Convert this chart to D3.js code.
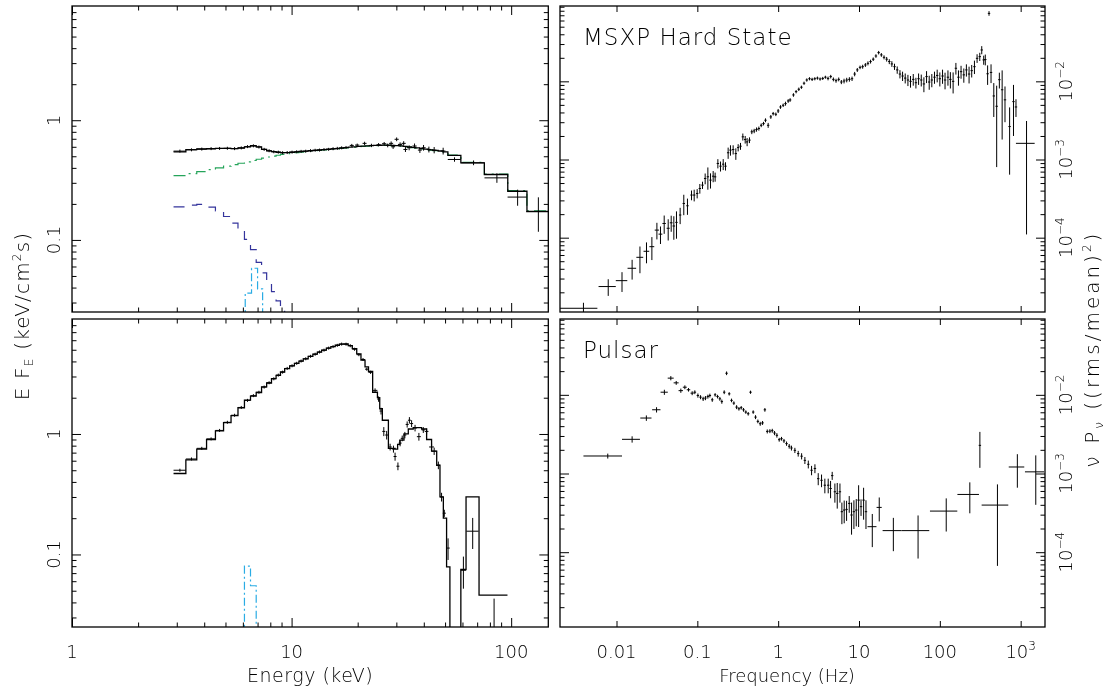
<!DOCTYPE html>
<html><head><meta charset="utf-8">
<script src="https://cdn.jsdelivr.net/npm/d3@7"></script>
<style>
body{margin:0;background:#fff;}
svg{will-change:transform;}
text{font-family:"DejaVu Sans","Liberation Sans",sans-serif;font-weight:200;fill:#000;}
</style></head><body>
<script>
// ---------------- DATA ----------------
const energyDomain = [1, 147.6];
const fluxDomain = [0.025, 9];
const freqDomain = [0.002, 2000];
const powerDomain = [1.12e-5, 0.092];

const energyTicks = [1, 10, 100];
const energyTickLabels = ["1", "10", "100"];
const energyMinor = [2,3,4,5,6,7,8,9,20,30,40,50,60,70,80,90];
const fluxTicks = [0.1, 1];
const fluxTickLabels = ["0.1", "1"];
const fluxMinor = [0.03,0.04,0.05,0.06,0.07,0.08,0.09,0.2,0.3,0.4,0.5,0.6,0.7,0.8,0.9,2,3,4,5,6,7,8];
const freqTicks = [0.01, 0.1, 1, 10, 100, 1000];
const freqTickLabels = ["0.01", "0.1", "1", "10", "100", "10^3"];
const powerTicks = [1e-4, 1e-3, 1e-2];
const powerTickExp = ["−4", "−3", "−2"];
const powerMinor = [2e-5,3e-5,4e-5,5e-5,6e-5,7e-5,8e-5,9e-5,2e-4,3e-4,4e-4,5e-4,6e-4,7e-4,8e-4,9e-4,
                    2e-3,3e-3,4e-3,5e-3,6e-3,7e-3,8e-3,9e-3,2e-2,3e-2,4e-2,5e-2,6e-2,7e-2,8e-2,9e-2];

// Top-left spectrum (MSXP hard state): model bins
const specTopEdges = [2.9,3.3,3.7,4.1,4.5,4.9,5.3,5.7,6.1,6.5,6.9,7.3,7.7,8.1,8.5,8.9,9.3,9.8,10.3,10.8,11.3,11.9,
  12.5,13.1,13.7,14.4,15.1,15.8,16.5,17.3,18.1,18.9,19.8,20.7,21.6,22.6,23.6,24.7,25.8,27.0,28.2,29.5,30.8,32.2,
  33.6,35.1,36.7,38.3,40.0,42.0,44.0,46.5,49.0,51.5,59.0,75.5,96.5,118,150];
const specTopTotal = [0.545,0.567,0.575,0.578,0.582,0.582,0.580,0.586,0.600,0.612,0.598,0.570,0.555,0.546,0.540,
  0.536,0.536,0.540,0.544,0.548,0.552,0.556,0.560,0.564,0.568,0.572,0.576,0.580,0.585,0.590,0.595,0.600,0.604,
  0.608,0.611,0.614,0.616,0.618,0.619,0.619,0.617,0.614,0.610,0.605,0.600,0.594,0.587,0.580,0.573,0.566,0.560,
  0.553,0.545,0.508,0.441,0.352,0.255,0.173];
const specTopComp = [0.345,0.358,0.372,0.386,0.400,0.413,0.425,0.437,0.449,0.461,0.472,0.483,0.493,0.502,0.510,
  0.518,0.525,0.531,0.537,0.542,0.547,0.553,0.557,0.561,0.565,0.569,0.573,0.577,0.582,0.587,0.592,0.597,0.601,
  0.605,0.608,0.611,0.613,0.615,0.616,0.616,0.614,0.611,0.607,0.602,0.597,0.591,0.584,0.577,0.570,0.563,0.557,
  0.550,0.542,0.512,0.444,0.355,0.258,0.175];
const specTopBB = [0.189,0.195,0.198,0.188,0.175,0.157,0.138,0.119,0.101,0.083,0.065,0.053,0.044,0.037,0.031,
  0.026,0.021,0.017,0.013];
const specTopLineEdges = [5.7,6.15,6.57,7.0,7.38,7.8];
const specTopLine = [0.005,0.036,0.058,0.039,0.005];
// [E, dE, flux, dflux]
const specTopData = [[3.1,0.2,0.552,0.012],[3.5,0.2,0.566,0.012],[3.9,0.2,0.574,0.012],[4.3,0.2,0.579,0.012],
  [4.7,0.2,0.581,0.012],[5.1,0.2,0.583,0.012],[5.5,0.2,0.579,0.012],[5.9,0.2,0.587,0.012],[6.3,0.2,0.602,0.013],
  [6.7,0.2,0.611,0.013],[7.1,0.2,0.597,0.013],[7.5,0.2,0.571,0.013],[7.9,0.2,0.556,0.013],[8.3,0.2,0.545,0.013],
  [8.7,0.2,0.541,0.013],[9.1,0.2,0.535,0.013],[9.55,0.25,0.537,0.013],[10.05,0.25,0.541,0.013],[10.55,0.25,0.545,0.014],
  [11.05,0.25,0.549,0.014],[11.6,0.3,0.551,0.014],[12.2,0.3,0.557,0.014],[12.8,0.3,0.561,0.014],[13.4,0.3,0.563,0.015],
  [14.05,0.35,0.569,0.015],[14.75,0.35,0.571,0.015],[15.45,0.35,0.578,0.016],[16.15,0.35,0.582,0.016],[16.9,0.4,0.588,0.016],
  [17.7,0.4,0.592,0.017],[18.8,0.4,0.616,0.018],[19.9,0.45,0.62,0.018],[21.5,0.45,0.641,0.02],[23.1,0.5,0.616,0.02],
  [24.9,0.55,0.624,0.02],[26.4,0.6,0.636,0.022],[27.4,0.6,0.616,0.022],[28.4,0.6,0.641,0.024],[29.0,0.6,0.60,0.024],
  [30.1,0.65,0.693,0.025],[31.2,0.7,0.628,0.025],[32.4,0.7,0.641,0.027],[33.0,0.7,0.57,0.027],[34.3,0.75,0.589,0.028],
  [36.3,0.8,0.609,0.03],[38.4,0.8,0.563,0.03],[39.9,0.9,0.589,0.032],[42.2,1.0,0.57,0.032],[44.6,1.1,0.563,0.034],
  [49.0,1.2,0.553,0.036],[55.2,3.75,0.47,0.02],[67.4,8.2,0.441,0.02],[86.1,10.5,0.33,0.03],[107,10.7,0.228,0.035],
  [133,16,0.172,0.055]];

// Bottom-left spectrum (pulsar)
const specBotEdges = [2.9,3.3,3.7,4.1,4.5,4.9,5.3,5.7,6.1,6.5,6.9,7.3,7.7,8.1,8.5,8.9,9.3,9.8,10.3,10.8,11.3,11.9,
  12.5,13.1,13.7,14.4,15.1,15.8,16.5,17.3,18.1,18.9,19.8,20.7,21.6,22.4,23.4,24.6,25.2,25.9,27.6,29.6,30.4,31.1,
  32.5,34.0,35.8,39.1,41.2,43.4,45.8,47.4,49.1,50.8,52.6,59.0,62.3,71.4,96.2];
const specBotModel = [0.47,0.61,0.75,0.90,1.06,1.24,1.42,1.65,1.91,2.06,2.21,2.46,2.65,2.88,3.07,3.27,3.49,3.67,
  3.85,4.02,4.20,4.40,4.60,4.78,4.97,5.15,5.30,5.45,5.57,5.58,5.42,5.10,4.62,4.10,3.60,3.30,2.22,2.00,1.62,1.30,
  0.76,0.75,0.82,0.89,1.00,1.10,1.13,1.10,0.90,0.72,0.55,0.30,0.20,0.079,0.005,0.075,0.30,0.046];
const specBotLineEdges = [5.7,6.1,6.5,6.9,7.3];
const specBotLine = [0.005,0.080,0.055,0.005];
const specBotData = [[3.1,0.2,0.50,0.012],[3.5,0.2,0.62,0.012],[3.9,0.2,0.76,0.014],[4.3,0.2,0.91,0.015],
  [4.7,0.2,1.07,0.016],[5.1,0.2,1.25,0.018],[5.5,0.2,1.43,0.02],[5.9,0.2,1.66,0.02],[6.3,0.2,1.90,0.022],
  [6.7,0.2,2.08,0.024],[7.1,0.2,2.22,0.025],[7.5,0.2,2.45,0.027],[7.9,0.2,2.66,0.03],[8.3,0.2,2.87,0.03],
  [8.7,0.2,3.08,0.035],[9.1,0.2,3.26,0.035],[9.55,0.25,3.5,0.04],[10.05,0.25,3.68,0.04],[10.55,0.25,3.86,0.04],
  [11.05,0.25,4.03,0.045],[11.6,0.3,4.21,0.05],[12.2,0.3,4.41,0.05],[12.8,0.3,4.59,0.05],[13.4,0.3,4.79,0.055],
  [14.05,0.35,4.96,0.06],[14.75,0.35,5.16,0.06],[15.45,0.35,5.31,0.065],[16.15,0.35,5.44,0.07],[16.9,0.4,5.57,0.07],
  [17.7,0.4,5.56,0.075],[18.5,0.4,5.40,0.08],[19.35,0.45,5.05,0.08],[20.25,0.45,4.55,0.08],[21.15,0.45,4.15,0.09],
  [22.0,0.4,3.45,0.1],[22.9,0.5,3.25,0.1],[24.0,0.6,2.3,0.09],[24.9,0.3,1.95,0.1],[25.55,0.35,1.55,0.1],
  [26.3,0.4,1.05,0.09],[27.1,0.4,0.98,0.08],[28.1,0.5,0.78,0.05],[29.1,0.5,0.75,0.05],[29.6,0.4,0.65,0.05],
  [30.5,0.4,0.54,0.04],[31.2,0.4,0.84,0.05],[31.9,0.4,0.92,0.05],[32.8,0.4,0.98,0.06],[33.6,0.4,1.20,0.07],
  [34.4,0.4,1.30,0.08],[35.2,0.4,1.22,0.08],[36.5,0.7,1.12,0.07],[38.0,0.8,0.95,0.07],[39.8,0.7,1.08,0.06],
  [41.2,0.8,1.05,0.06],[43.4,1.1,0.78,0.05],[44.6,1.2,0.72,0.05],[46.6,0.8,0.55,0.04],[48.2,0.8,0.30,0.025],
  [49.6,0.8,0.22,0.015],[51.6,0.9,0.113,0.023],[60.6,1.7,0.074,0.022],[66.8,4.3,0.156,0.045],[83.6,12,0.02,0.023]];

// Top-right PSD (MSXP hard state): [f, df, nuPnu, err]
const psdHard = [[0.0039,0.0019,1.25e-5,0.22e-5],[0.0079,0.0019,2.37e-5,0.57e-5],[0.0117,0.0019,2.82e-5,0.8e-5],
  [0.0156,0.0019,4.06e-5,1.15e-5],[0.0195,0.0019,5.61e-5,2.1e-5],[0.0235,0.0019,6.7e-5,2.0e-5],[0.0274,0.0019,7.67e-5,2.5e-5],
  [0.0316,0.0019,1.25e-4,0.3e-4],[0.0350,0.0019,1.11e-4,0.28e-4],[0.0389,0.0019,1.52e-4,0.4e-4],[0.0436,0.0019,1.32e-4,0.4e-4],
  [0.0475,0.0019,1.55e-4,0.36e-4],[0.0512,0.0019,1.41e-4,0.47e-4],[0.0552,0.0019,1.57e-4,0.6e-4],[0.0613,0.002,1.95e-4,0.46e-4],
  [0.068,0.002,2.74e-4,0.8e-4],[0.0755,0.002,2.56e-4,0.6e-4],[0.0847,0.002,3.51e-4,0.5e-4],[0.0914,0.002,3.51e-4,0.6e-4],
  [0.0995,0.002,3.68e-4,0.5e-4],[0.1074,0.002,4.26e-4,0.6e-4],[0.1159,0.002,4.7e-4,0.5e-4],[0.125,0.002,5.72e-4,0.9e-4],
  [0.135,0.002,6.01e-4,1.9e-4],[0.1455,0.002,5.45e-4,1.2e-4],[0.157,0.002,6.12e-4,1.0e-4],[0.166,0.002,6.0e-4,0.8e-4],
  [0.1795,0.002,8.9e-4,1.2e-4],[0.1936,0.002,8.22e-4,1.2e-4],[0.209,0.002,8.72e-4,1.4e-4],[0.223,0.002,8.22e-4,1.0e-4],
  [0.2406,0.003,1.22e-3,0.2e-3],[0.257,0.003,1.32e-3,0.2e-3],[0.2774,0.003,1.34e-3,0.18e-3],[0.2994,0.003,1.19e-3,0.2e-3],
  [0.32,0.004,1.42e-3,0.15e-3],[0.342,0.004,1.48e-3,0.15e-3],[0.3656,0.004,1.95e-3,0.2e-3],[0.391,0.004,1.8e-3,0.2e-3],
  [0.413,0.005,1.68e-3,0.2e-3],[0.4416,0.005,1.77e-3,0.15e-3],[0.472,0.005,2.26e-3,0.15e-3],[0.505,0.006,2.32e-3,0.15e-3],
  [0.54,0.006,2.42e-3,0.15e-3],[0.577,0.007,2.49e-3,0.15e-3],[0.617,0.007,2.74e-3,0.15e-3],[0.659,0.008,2.88e-3,0.15e-3],
  [0.697,0.008,3.18e-3,0.18e-3],[0.752,0.009,2.74e-3,0.2e-3],[0.811,0.01,3.51e-3,0.2e-3],[0.867,0.01,3.86e-3,0.2e-3],
  [0.936,0.011,3.79e-3,0.2e-3],[1.0,0.012,4.18e-3,0.25e-3],[1.069,0.013,4.70e-3,0.25e-3],[1.153,0.014,4.94e-3,0.25e-3],
  [1.233,0.015,5.19e-3,0.3e-3],[1.33,0.016,5.61e-3,0.3e-3],[1.406,0.017,5.78e-3,0.3e-3],[1.545,0.018,6.7e-3,0.35e-3],
  [1.667,0.02,7.38e-3,0.35e-3],[1.8,0.022,7.92e-3,0.4e-3],[1.94,0.023,8.41e-3,0.4e-3],[2.09,0.025,9.46e-3,0.45e-3],
  [2.26,0.027,1.04e-2,0.05e-2],[2.44,0.03,1.08e-2,0.05e-2],[2.63,0.032,1.06e-2,0.05e-2],[2.84,0.034,1.08e-2,0.05e-2],
  [3.06,0.037,1.10e-2,0.05e-2],[3.30,0.04,1.07e-2,0.05e-2],[3.56,0.043,1.09e-2,0.05e-2],[3.84,0.046,1.13e-2,0.05e-2],
  [4.14,0.05,1.09e-2,0.06e-2],[4.47,0.054,1.15e-2,0.06e-2],[4.82,0.058,1.06e-2,0.06e-2],[5.2,0.062,1.02e-2,0.06e-2],
  [5.61,0.067,1.06e-2,0.06e-2],[6.05,0.073,9.8e-3,0.6e-3],[6.53,0.078,1.01e-2,0.07e-2],[7.05,0.085,1.04e-2,0.07e-2],
  [7.6,0.09,1.06e-2,0.07e-2],[8.2,0.1,1.08e-2,0.07e-2],[8.84,0.11,1.24e-2,0.08e-2],[9.53,0.11,1.40e-2,0.08e-2],
  [10.3,0.12,1.51e-2,0.08e-2],[11.1,0.13,1.54e-2,0.09e-2],[12.0,0.14,1.62e-2,0.09e-2],[12.9,0.15,1.70e-2,0.1e-2],
  [13.9,0.17,1.79e-2,0.1e-2],[15.0,0.18,1.92e-2,0.1e-2],[16.2,0.19,2.11e-2,0.11e-2],[17.5,0.21,2.33e-2,0.12e-2],
  [18.9,0.23,2.18e-2,0.12e-2],[20.4,0.25,2.03e-2,0.12e-2],[22.0,0.26,1.92e-2,0.13e-2],[23.7,0.28,1.79e-2,0.13e-2],
  [25.5,0.3,1.67e-2,0.14e-2],[27.5,0.33,1.54e-2,0.14e-2],[29.7,0.36,1.40e-2,0.15e-2],[32.1,0.38,1.24e-2,0.15e-2],
  [34.6,0.41,1.17e-2,0.16e-2],[37.3,0.45,1.10e-2,0.16e-2],[40.3,0.48,1.04e-2,0.17e-2],[43.4,0.52,1.0e-2,0.17e-2],
  [46.9,0.56,1.06e-2,0.18e-2],[50.6,0.6,9.6e-3,1.5e-3],[54.6,0.65,1.08e-2,0.18e-2],[58.9,0.7,1.04e-2,0.18e-2],
  [63.5,0.76,9.26e-3,2.0e-3],[68.5,0.82,1.15e-2,0.2e-2],[73.9,0.88,9.8e-3,0.2e-2],[79.6,0.95,1.04e-2,0.2e-2],
  [85.9,1.0,1.13e-2,0.2e-2],[92.7,1.1,1.19e-2,0.22e-2],[100,1.2,1.08e-2,0.22e-2],[108,1.3,1.17e-2,0.24e-2],
  [116,1.4,1.04e-2,0.25e-2],[126,1.5,1.13e-2,0.25e-2],[135,1.6,1.06e-2,0.25e-2],[146,1.7,1.0e-2,0.3e-2],
  [158,1.9,1.47e-2,0.25e-2],[170,2.0,1.13e-2,0.25e-2],[183,2.2,1.33e-2,0.25e-2],[198,2.4,1.21e-2,0.25e-2],
  [213,2.5,1.40e-2,0.25e-2],[230,2.7,1.24e-2,0.3e-2],[248,3.0,1.37e-2,0.25e-2],[268,3.2,1.54e-2,0.3e-2],
  [289,3.5,1.97e-2,0.25e-2],[312,3.7,2.07e-2,0.25e-2],[330,4.0,2.52e-2,0.3e-2],[349,4.2,1.88e-2,0.25e-2],
  [365,4.4,1.9e-2,0.3e-2],[390,4.7,1.25e-2,0.35e-2],[406,1.0,7.4e-2,0.5e-2],[430,5.2,1.30e-2,0.35e-2],
  [465,5.6,6.5e-3,3.0e-3],[505,6.0,4.8e-3,4.0e-3],[545,6.5,1.05e-2,2.4e-3],[590,7.0,7.8e-3,6.0e-3],
  [640,7.7,5.8e-3,2.8e-3],[730,8.8,2.64e-3,2.0e-3],[815,9.8,5.5e-3,3.5e-3],[875,10.5,4.7e-3,1.2e-3],
  [1182,308,1.61e-3,1.5e-3]];

// Bottom-right PSD (pulsar)
const psdPulsar = [[0.0078,0.0039,1.67e-3,0.12e-3],[0.0156,0.0039,2.72e-3,0.25e-3],[0.0234,0.0037,5.07e-3,0.4e-3],
  [0.0313,0.0037,6.46e-3,0.5e-3],[0.0391,0.004,1.08e-2,0.08e-2],[0.047,0.004,1.63e-2,0.1e-2],[0.0548,0.0039,1.42e-2,0.08e-2],
  [0.0625,0.0039,1.13e-2,0.07e-2],[0.0701,0.0039,1.25e-2,0.07e-2],[0.0778,0.0039,1.16e-2,0.06e-2],[0.0863,0.0039,1.05e-2,0.06e-2],
  [0.0931,0.0035,1.08e-2,0.06e-2],[0.1016,0.0035,9.8e-3,0.6e-3],[0.1096,0.0035,9.34e-3,0.55e-3],[0.118,0.0035,8.9e-3,0.55e-3],
  [0.126,0.0035,9.1e-3,0.55e-3],[0.135,0.0035,9.5e-3,0.55e-3],[0.143,0.0035,9.8e-3,0.55e-3],[0.153,0.0035,8.65e-3,0.5e-3],
  [0.166,0.0035,1.0e-2,0.05e-2],[0.178,0.0035,9.5e-3,0.5e-3],[0.19,0.0035,8.9e-3,0.5e-3],[0.201,0.0035,8.2e-3,0.5e-3],
  [0.215,0.0035,1.08e-2,0.06e-2],[0.23,0.0035,1.88e-2,0.1e-2],[0.248,0.0035,1.03e-2,0.05e-2],[0.265,0.0035,8.5e-3,0.45e-3],
  [0.283,0.0035,7.85e-3,0.4e-3],[0.306,0.0035,6.98e-3,0.4e-3],[0.327,0.0035,6.65e-3,0.35e-3],[0.349,0.0035,6.85e-3,0.35e-3],
  [0.373,0.0035,6.45e-3,0.35e-3],[0.398,0.0035,6.04e-3,0.3e-3],[0.426,0.0035,5.75e-3,0.3e-3],[0.455,0.004,1.08e-2,0.05e-2],
  [0.491,0.004,6.04e-3,0.3e-3],[0.525,0.004,5.21e-3,0.3e-3],[0.561,0.004,4.6e-3,0.25e-3],[0.6,0.005,4.29e-3,0.25e-3],
  [0.641,0.005,4.4e-3,0.25e-3],[0.685,0.005,6.45e-3,0.35e-3],[0.733,0.006,3.43e-3,0.2e-3],[0.79,0.006,3.46e-3,0.2e-3],
  [0.845,0.007,3.5e-3,0.2e-3],[0.902,0.007,3.27e-3,0.2e-3],[0.964,0.008,3.06e-3,0.2e-3],[1.03,0.008,2.69e-3,0.15e-3],
  [1.10,0.009,2.77e-3,0.15e-3],[1.18,0.01,2.6e-3,0.15e-3],[1.27,0.01,2.4e-3,0.15e-3],[1.37,0.011,2.22e-3,0.15e-3],
  [1.46,0.012,2.11e-3,0.15e-3],[1.61,0.013,1.97e-3,0.15e-3],[1.77,0.014,1.79e-3,0.15e-3],[1.95,0.016,1.66e-3,0.15e-3],
  [2.14,0.017,1.47e-3,0.15e-3],[2.36,0.019,1.31e-3,0.15e-3],[2.59,0.021,1.10e-3,0.15e-3],[2.85,0.023,1.16e-3,0.15e-3],
  [3.13,0.025,8.6e-4,1.5e-4],[3.44,0.028,8.2e-4,1.5e-4],[3.78,0.03,7.1e-4,1.5e-4],[4.16,0.033,7.1e-4,1.5e-4],
  [4.45,0.036,6.45e-4,1.6e-4],[4.66,0.037,9.4e-4,1.1e-4],[5.03,0.04,5.86e-4,1.6e-4],[5.38,0.043,5.58e-4,2.0e-4],
  [5.81,0.046,5.86e-4,1.6e-4],[6.14,0.05,3.27e-4,1.0e-4],[6.56,0.053,3.43e-4,1.1e-4],[7.02,0.056,3.5e-4,1.0e-4],
  [7.57,0.06,4.17e-4,1.0e-4],[8.09,0.065,2.97e-4,1.3e-4],[8.65,0.07,3.27e-4,1.3e-4],[9.25,0.074,3.43e-4,1.3e-4],
  [9.89,0.08,4.59e-4,2.5e-4],[10.6,0.085,3.79e-4,0.9e-4],[11.4,0.09,4.59e-4,2.0e-4],[12.2,0.1,3.27e-4,1.3e-4],
  [14.6,1.85,2.11e-4,0.95e-4],[17.8,1.3,3.71e-4,1.25e-4],[26.6,7.0,1.88e-4,0.85e-4],[53.8,20.2,1.88e-4,1.05e-4],
  [120,44.5,3.33e-4,1.5e-4],[235,70,5.42e-4,2.3e-4],[313,0.5,2.28e-3,1.1e-3],[516,187,3.97e-4,3.3e-4],
  [910,198,1.21e-3,0.55e-3],[1538,408,1.05e-3,0.65e-3]];

const panelLabels = ["MSXP Hard State", "Pulsar"];
const xTitleLeft = "Energy (keV)";
const xTitleRight = "Frequency (Hz)";

// ---------------- LAYOUT ----------------
const W = 1109, H = 692;
const svg = d3.select("body").append("svg").attr("width", W).attr("height", H);
const LX = [72, 548.3], RX = [560, 1045];
const TY = [312, 6], BY = [627, 319];

const xE = d3.scaleLog().domain(energyDomain).range(LX);
const xF = d3.scaleLog().domain(freqDomain).range(RX);
const yTL = d3.scaleLog().domain(fluxDomain).range(TY);
const yBL = d3.scaleLog().domain(fluxDomain).range(BY);
const yTR = d3.scaleLog().domain(powerDomain).range(TY);
const yBR = d3.scaleLog().domain(powerDomain).range(BY);

const GREEN = "#25a45a", NAVY = "#34349c", CYAN = "#2aace4";

function panel(id, x, y) {
  const [xa, xb] = x.range(), [ya, yb] = y.range();
  svg.append("clipPath").attr("id", id).append("rect")
    .attr("x", xa).attr("y", yb).attr("width", xb - xa).attr("height", ya - yb);
  return svg.append("g").attr("clip-path", `url(#${id})`);
}

function stepLine(g, x, y, edges, vals, color, dash, width) {
  const pts = vals.map((v, i) => [edges[i], v]);
  pts.push([edges[vals.length], vals[vals.length - 1]]);
  const line = d3.line().x(d => x(d[0])).y(d => y(d[1])).curve(d3.curveStepAfter);
  g.append("path").attr("d", line(pts)).attr("fill", "none").attr("stroke", color)
    .attr("stroke-width", width || 1.2).attr("stroke-dasharray", dash || null);
}

function crosses(g, x, y, data, minHalf, width) {
  const ymin = y.domain()[0] * 0.3, xmin = x.domain()[0] * 0.3;
  const gg = g.append("g").attr("stroke", "#000").attr("stroke-width", width || 1);
  gg.selectAll("line.h").data(data).join("line").attr("class", "h")
    .attr("x1", d => Math.min(x(Math.max(d[0] - d[1], xmin)), x(d[0]) - minHalf))
    .attr("x2", d => Math.max(x(d[0] + d[1]), x(d[0]) + minHalf))
    .attr("y1", d => y(d[2])).attr("y2", d => y(d[2]));
  gg.selectAll("line.v").data(data).join("line").attr("class", "v")
    .attr("x1", d => x(d[0])).attr("x2", d => x(d[0]))
    .attr("y1", d => Math.max(y(Math.max(d[2] - d[3], ymin)), y(d[2]) + minHalf))
    .attr("y2", d => Math.min(y(d[2] + d[3]), y(d[2]) - minHalf));
}

function ticks(orient, scale, pos, values, len) {
  const f = {bottom: d3.axisBottom, top: d3.axisTop, left: d3.axisLeft, right: d3.axisRight}[orient];
  const ax = f(scale).tickValues(values).tickSize(-len).tickFormat(() => "");
  const horiz = orient === "bottom" || orient === "top";
  const g = svg.append("g").attr("transform", horiz ? `translate(0,${pos})` : `translate(${pos},0)`).call(ax);
  g.select(".domain").remove();
  g.selectAll(".tick text").remove();
  g.selectAll(".tick line").attr("stroke", "#000").attr("stroke-width", 1);
}

function frame(x, y) {
  const [xa, xb] = x.range(), [ya, yb] = y.range();
  svg.append("rect").attr("x", xa).attr("y", yb).attr("width", xb - xa).attr("height", ya - yb)
    .attr("fill", "none").attr("stroke", "#000").attr("stroke-width", 1.3);
}

// ---- Top-left ----
{
  const g = panel("cTL", xE, yTL);
  stepLine(g, xE, yTL, specTopEdges, specTopComp, GREEN, "12,5,2,5", 1.2);
  stepLine(g, xE, yTL, specTopEdges, specTopBB, NAVY, "11,9", 1.2);
  stepLine(g, xE, yTL, specTopLineEdges, specTopLine, CYAN, "8,3,2,3", 1.2);
  crosses(g, xE, yTL, specTopData, 1.5, 1);
  stepLine(g, xE, yTL, specTopEdges, specTopTotal, "#000", null, 1.3);
}
// ---- Bottom-left ----
{
  const g = panel("cBL", xE, yBL);
  stepLine(g, xE, yBL, specBotLineEdges, specBotLine, CYAN, "8,3,2,3", 1.2);
  crosses(g, xE, yBL, specBotData, 1.5, 1);
  stepLine(g, xE, yBL, specBotEdges, specBotModel, "#000", null, 1.3);
}
// ---- Top-right ----
{
  const g = panel("cTR", xF, yTR);
  crosses(g, xF, yTR, psdHard, 1.2, 1);
}
// ---- Bottom-right ----
{
  const g = panel("cBR", xF, yBR);
  crosses(g, xF, yBR, psdPulsar, 1.2, 1);
}

// ---- Ticks ----
[[yTL, TY], [yBL, BY]].forEach(([y, r]) => {
  ticks("bottom", xE, r[0], energyTicks, 9); ticks("bottom", xE, r[0], energyMinor, 4.5);
  ticks("top", xE, r[1], energyTicks, 9); ticks("top", xE, r[1], energyMinor, 4.5);
  ticks("left", y, LX[0], fluxTicks, 9); ticks("left", y, LX[0], fluxMinor, 4.5);
  ticks("right", y, LX[1], fluxTicks, 9); ticks("right", y, LX[1], fluxMinor, 4.5);
  frame(xE, y);
});
[[yTR, TY], [yBR, BY]].forEach(([y, r]) => {
  ticks("bottom", xF, r[0], freqTicks, 6);
  ticks("top", xF, r[1], freqTicks, 6);
  ticks("left", y, RX[0], powerTicks, 9); ticks("left", y, RX[0], powerMinor, 4.5);
  ticks("right", y, RX[1], powerTicks, 9); ticks("right", y, RX[1], powerMinor, 4.5);
  frame(xF, y);
});

// ---- Tick labels ----
const FS = 18;
energyTicks.forEach((v, i) => {
  svg.append("text").attr("x", xE(v)).attr("y", 658).attr("text-anchor", "middle")
    .attr("font-size", FS).text(energyTickLabels[i]);
});
freqTicks.forEach((v, i) => {
  const t = svg.append("text").attr("x", xF(v)).attr("y", 658).attr("text-anchor", "middle").attr("font-size", FS);
  const lab = freqTickLabels[i];
  if (lab.includes("^")) {
    const [b, e] = lab.split("^");
    t.append("tspan").text(b);
    t.append("tspan").attr("dy", -8).attr("font-size", 12).text(e);
  } else t.text(lab);
});
[yTL, yBL].forEach(y => fluxTicks.forEach((v, i) => {
  svg.append("text").attr("transform", `translate(60,${y(v)}) rotate(-90)`).attr("text-anchor", "middle")
    .attr("font-size", FS).text(fluxTickLabels[i]);
}));
[yTR, yBR].forEach(y => powerTicks.forEach((v, i) => {
  const t = svg.append("text").attr("transform", `translate(1072,${y(v)}) rotate(-90)`).attr("text-anchor", "middle")
    .attr("font-size", FS);
  t.append("tspan").text("10");
  t.append("tspan").attr("dy", -8).attr("font-size", 12).text(powerTickExp[i]);
}));

// ---- Titles ----
svg.append("text").attr("x", (LX[0] + LX[1]) / 2).attr("y", 682).attr("text-anchor", "middle")
  .attr("font-size", 19).attr("letter-spacing", 0.5).text(xTitleLeft);
svg.append("text").attr("x", 787).attr("y", 682).attr("text-anchor", "middle")
  .attr("font-size", 18).text(xTitleRight);
{
  const t = svg.append("text").attr("transform", "translate(29,316) rotate(-90)").attr("text-anchor", "middle")
    .attr("font-size", 20).attr("letter-spacing", 1.2);
  t.append("tspan").text("E F");
  t.append("tspan").attr("dy", 4).attr("font-size", 12).text("E");
  t.append("tspan").attr("dy", -4).text(" (keV/cm");
  t.append("tspan").attr("dy", -8).attr("font-size", 12).text("2");
  t.append("tspan").attr("dy", 8).text("s)");
}
{
  const t = svg.append("text").attr("transform", "translate(1099,349) rotate(-90)").attr("text-anchor", "middle")
    .attr("font-size", 20).attr("letter-spacing", 3);
  t.append("tspan").text("ν P");
  t.append("tspan").attr("dy", 4).attr("font-size", 12).text("ν");
  t.append("tspan").attr("dy", -4).text(" ((rms/mean)");
  t.append("tspan").attr("dy", -8).attr("font-size", 12).text("2");
  t.append("tspan").attr("dy", 8).text(")");
}
svg.append("text").attr("x", 583).attr("y", 45).attr("font-size", 23).attr("letter-spacing", 1).text(panelLabels[0]);
svg.append("text").attr("x", 583).attr("y", 358).attr("font-size", 23).attr("letter-spacing", 1).text(panelLabels[1]);
</script></body></html>
